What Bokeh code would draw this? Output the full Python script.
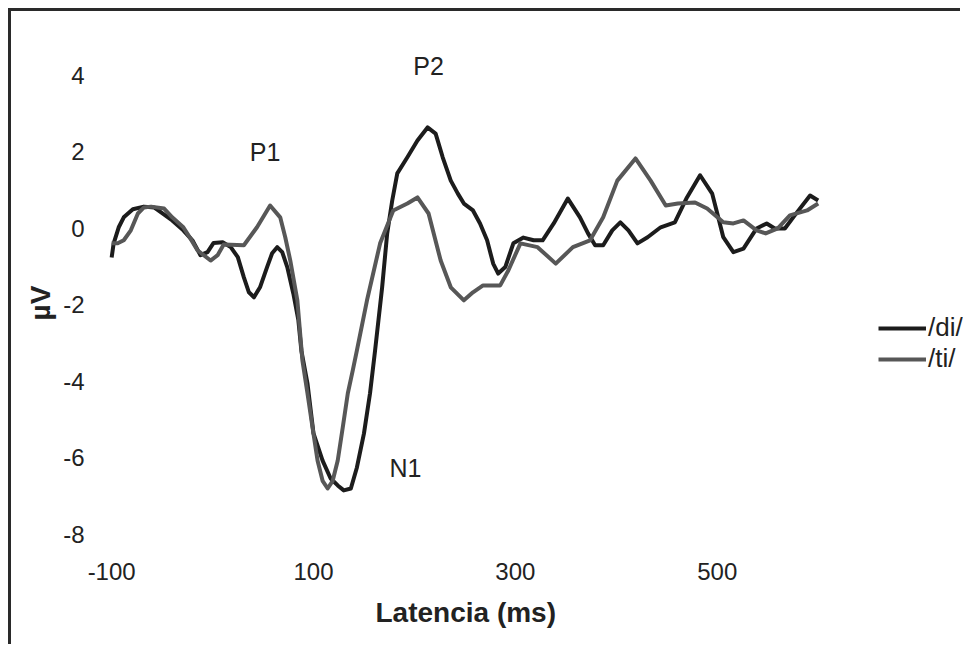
from bokeh.plotting import figure
from bokeh.models import Range1d, FixedTicker, Legend, LegendItem, Label, CustomJSTickFormatter, Title
from bokeh.embed import file_html
from bokeh.resources import INLINE

# ---- data ----
di_t = [-100, -98, -93, -88, -79, -68, -58, -51, -40, -29, -20, -12, -5, 1, 10, 18, 25, 31, 36, 41,
        47, 54, 59, 64, 69, 74, 80, 85, 88, 94, 100, 109, 117, 124, 130, 137, 143, 150, 156, 161,
        168, 173, 178, 183, 193, 203, 213, 221, 228, 236, 243, 249, 258, 265, 272, 278, 283, 290,
        298, 308, 318, 327, 338, 352, 364, 372, 379, 387, 396, 404, 412, 421, 431, 444, 458, 470,
        483, 495, 501, 506, 516, 526, 539, 549, 557, 567, 579, 592, 600]
di_v = [-0.76, -0.39, 0.03, 0.29, 0.50, 0.57, 0.55, 0.42, 0.21, -0.05, -0.31, -0.70, -0.62, -0.38,
        -0.36, -0.49, -0.75, -1.28, -1.67, -1.80, -1.54, -1.01, -0.65, -0.49, -0.62, -1.01, -1.70,
        -2.40, -3.20, -4.05, -5.36, -6.07, -6.54, -6.72, -6.85, -6.80, -6.25, -5.36, -4.31, -3.19,
        -1.54, -0.13, 0.73, 1.44, 1.86, 2.30, 2.64, 2.48, 1.86, 1.25, 0.91, 0.65, 0.47, 0.13, -0.31,
        -0.92, -1.18, -1.01, -0.39, -0.24, -0.31, -0.31, 0.13, 0.78, 0.29, -0.13, -0.44, -0.44,
        -0.05, 0.16, -0.05, -0.39, -0.23, 0.03, 0.16, 0.81, 1.39, 0.91, 0.29, -0.23, -0.62, -0.53,
        0.00, 0.13, 0.00, 0.00, 0.42, 0.86, 0.73]

ti_t = [-100, -94, -88, -81, -74, -68, -61, -48, -40, -29, -22, -15, -2, 5, 11, 31, 44, 57, 67, 72,
        77, 84, 89, 94, 99, 104, 109, 114, 119, 124, 129, 134, 139, 143, 153, 166, 179, 193, 203,
        214, 226, 236, 249, 258, 268, 285, 293, 305, 322, 340, 357, 374, 387, 401, 419, 434, 449,
        461, 478, 490, 506, 516, 526, 539, 548, 560, 572, 589, 600]
ti_v = [-0.39, -0.39, -0.31, -0.05, 0.39, 0.55, 0.57, 0.52, 0.29, 0.03, -0.26, -0.57, -0.84, -0.70,
        -0.42, -0.44, 0.03, 0.60, 0.29, -0.23, -0.84, -1.88, -3.45, -4.31, -5.20, -6.07, -6.60,
        -6.80, -6.60, -6.07, -5.20, -4.31, -3.70, -3.19, -1.88, -0.39, 0.47, 0.65, 0.81, 0.39,
        -0.84, -1.54, -1.88, -1.67, -1.49, -1.49, -1.10, -0.39, -0.49, -0.92, -0.49, -0.31, 0.29,
        1.25, 1.83, 1.25, 0.60, 0.65, 0.68, 0.52, 0.16, 0.13, 0.21, -0.05, -0.13, 0.00, 0.34,
        0.47, 0.65]

series_names = ["/di/", "/ti/"]
x_ticks = [-100, 100, 300, 500]
y_ticks = [-8, -6, -4, -2, 0, 2, 4]
x_title = "Latencia (ms)"
y_title = "µV"

peak_labels = ["P1", "P2", "N1"]
peak_t = [52, 214, 191]
peak_v = [2.0, 4.24, -6.27]

# ---- figure ----
FONT = "Liberation Sans"
TXT = "#222222"

p = figure(width=952, height=636, output_backend="svg", toolbar_location=None,
           x_range=Range1d(-116, 744), y_range=Range1d(-8.5, 4.6),
           min_border_left=84, min_border_right=0, min_border_top=41, min_border_bottom=94)
p.styles = {"border-left": "3px solid #2a2a2a", "border-top": "3px solid #2a2a2a",
            "margin-left": "8px", "margin-top": "8px"}
p.outline_line_color = None
p.xgrid.grid_line_color = None
p.ygrid.grid_line_color = None
p.background_fill_color = "white"
p.border_fill_color = "white"

fmt = CustomJSTickFormatter(code="return String(tick);")
for ax in (p.xaxis[0], p.yaxis[0]):
    ax.axis_line_color = None
    ax.major_tick_line_color = None
    ax.minor_tick_line_color = None
    ax.major_label_text_font = FONT
    ax.major_label_text_font_size = "24px"
    ax.major_label_text_color = TXT
    ax.axis_label_text_font = FONT
    ax.axis_label_text_font_size = "28px"
    ax.axis_label_text_font_style = "bold"
    ax.axis_label_text_color = TXT
    ax.formatter = fmt

p.xaxis.ticker = FixedTicker(ticks=x_ticks)
p.yaxis.ticker = FixedTicker(ticks=y_ticks)
p.yaxis.axis_label = y_title
p.xaxis.major_label_standoff = 3
p.yaxis.major_label_standoff = 5
p.yaxis.axis_label_standoff = 4

# x-axis title placed below the axis, aligned like the reference
p.add_layout(Title(text=x_title, align="left", offset=280, standoff=24,
                   text_font=FONT, text_font_size="28px", text_font_style="bold",
                   text_color=TXT), "below")

r_di = p.line(di_t, di_v, line_color="#1c1c1c", line_width=4, line_join="round")
r_ti = p.line(ti_t, ti_v, line_color="#575757", line_width=4, line_join="round")

for lab, t, v in zip(peak_labels, peak_t, peak_v):
    p.add_layout(Label(x=t, y=v, text=lab, text_font=FONT, text_font_size="25px",
                       text_color=TXT, text_align="center", text_baseline="middle"))

legend = Legend(items=[LegendItem(label=series_names[0], renderers=[r_di]),
                       LegendItem(label=series_names[1], renderers=[r_ti])],
                location=(783, 179), padding=0, margin=0, spacing=-1,
                glyph_width=48, glyph_height=26, label_height=26, label_standoff=2,
                label_text_font=FONT, label_text_font_size="26px", label_text_color=TXT,
                border_line_color=None, background_fill_alpha=0)
p.add_layout(legend, "center")

open("out.html", "w").write(file_html(p, INLINE))
